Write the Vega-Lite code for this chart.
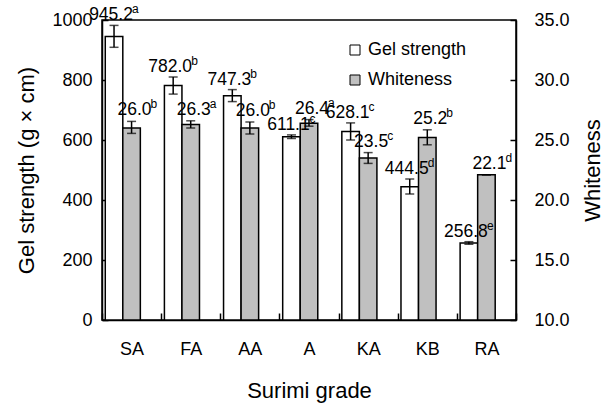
{
  "$schema": "https://vega.github.io/schema/vega-lite/v6.json",
  "autosize": "none",
  "width": 414,
  "height": 300,
  "padding": {"left": 102, "top": 20, "right": 91, "bottom": 83},
  "background": "white",
  "config": {
    "font": "Liberation Sans",
    "view": {"stroke": "black", "strokeWidth": 1.5},
    "axis": {
      "domainColor": "black", "domainWidth": 1.5,
      "tickColor": "black", "tickWidth": 1.5,
      "labelColor": "black", "titleColor": "black",
      "labelFontSize": 18, "titleFontSize": 22, "titleFontWeight": "normal",
      "grid": false
    },
    "legend": {"labelFontSize": 18, "labelColor": "black"}
  },
  "data": {
    "values": [
      {"grade": "SA", "measure": "Gel strength", "value": 945.2, "lo": 909, "hi": 982, "sig": "a"},
      {"grade": "SA", "measure": "Whiteness", "value": 26.0, "lo": 25.55, "hi": 26.55, "sig": "b"},
      {"grade": "FA", "measure": "Gel strength", "value": 782.0, "lo": 753, "hi": 810, "sig": "b"},
      {"grade": "FA", "measure": "Whiteness", "value": 26.3, "lo": 26.0, "hi": 26.6, "sig": "a"},
      {"grade": "AA", "measure": "Gel strength", "value": 747.3, "lo": 728, "hi": 768, "sig": "b"},
      {"grade": "AA", "measure": "Whiteness", "value": 26.0, "lo": 25.5, "hi": 26.5, "sig": "b"},
      {"grade": "A", "measure": "Gel strength", "value": 611.1, "lo": 605, "hi": 617, "sig": "c"},
      {"grade": "A", "measure": "Whiteness", "value": 26.4, "lo": 26.15, "hi": 26.7, "sig": "a"},
      {"grade": "KA", "measure": "Gel strength", "value": 628.1, "lo": 600, "hi": 657, "sig": "c"},
      {"grade": "KA", "measure": "Whiteness", "value": 23.5, "lo": 23.05, "hi": 23.95, "sig": "c"},
      {"grade": "KB", "measure": "Gel strength", "value": 444.5, "lo": 420, "hi": 470, "sig": "d"},
      {"grade": "KB", "measure": "Whiteness", "value": 25.2, "lo": 24.6, "hi": 25.85, "sig": "b"},
      {"grade": "RA", "measure": "Gel strength", "value": 256.8, "lo": 252.5, "hi": 261, "sig": "e"},
      {"grade": "RA", "measure": "Whiteness", "value": 22.1, "lo": 22.1, "hi": 22.1, "sig": "d"}
    ]
  },
  "encoding": {
    "x": {
      "field": "grade", "type": "nominal", "sort": null,
      "scale": {"domain": ["SA", "FA", "AA", "A", "KA", "KB", "RA"], "paddingInner": 0, "paddingOuter": 0},
      "axis": {"title": "Surimi grade", "labelAngle": 0, "tickBand": "extent", "tickSize": -7, "labelPadding": 27, "titlePadding": 22}
    },
    "xOffset": {
      "field": "measure", "type": "nominal",
      "scale": {"domain": ["Gel strength", "Whiteness", "_"], "paddingInner": 0, "paddingOuter": 0.186}
    }
  },
  "layer": [
    {
      "transform": [{"filter": "datum.measure === 'Gel strength'"}],
      "layer": [
        {
          "mark": {"type": "bar", "stroke": "black", "strokeWidth": 1.5},
          "encoding": {
            "y": {"field": "value", "type": "quantitative",
              "scale": {"domain": [0, 1000], "nice": false},
              "axis": {"title": "Gel strength (g × cm)", "values": [0, 200, 400, 600, 800, 1000], "format": "d", "tickSize": -6, "labelPadding": 16, "titlePadding": 13}},
            "color": {"field": "measure", "type": "nominal",
              "scale": {"domain": ["Gel strength", "Whiteness"], "range": ["white", "#c0c0c0"]},
              "legend": {"title": null, "orient": "none", "legendX": 244, "legendY": 21, "symbolType": "square", "symbolSize": 100, "symbolStrokeColor": "black", "symbolStrokeWidth": 1, "labelOffset": 4, "rowPadding": 12}}
          }
        },
        {
          "mark": {"type": "rule", "stroke": "black", "strokeWidth": 1.5},
          "encoding": {"y": {"field": "lo", "type": "quantitative"}, "y2": {"field": "hi"}}
        },
        {
          "mark": {"type": "tick", "color": "black", "size": 9, "thickness": 1.5},
          "encoding": {"y": {"field": "lo", "type": "quantitative"}}
        },
        {
          "mark": {"type": "tick", "color": "black", "size": 9, "thickness": 1.5},
          "encoding": {"y": {"field": "hi", "type": "quantitative"}}
        }
      ]
    },
    {
      "transform": [{"filter": "datum.measure === 'Whiteness'"}],
      "layer": [
        {
          "mark": {"type": "bar", "stroke": "black", "strokeWidth": 1.5},
          "encoding": {
            "y": {"field": "value", "type": "quantitative",
              "scale": {"domain": [10, 35], "nice": false, "zero": false},
              "axis": {"title": "Whiteness", "orient": "right", "values": [10, 15, 20, 25, 30, 35], "format": ".1f", "tickSize": -6, "labelPadding": 24, "titlePadding": 35, "titleAngle": 270}},
            "y2": {"datum": 10},
            "color": {"field": "measure", "type": "nominal"}
          }
        },
        {
          "mark": {"type": "rule", "stroke": "black", "strokeWidth": 1.5},
          "encoding": {"y": {"field": "lo", "type": "quantitative"}, "y2": {"field": "hi"}}
        },
        {
          "mark": {"type": "tick", "color": "black", "size": 9, "thickness": 1.5},
          "encoding": {"y": {"field": "lo", "type": "quantitative"}}
        },
        {
          "mark": {"type": "tick", "color": "black", "size": 9, "thickness": 1.5},
          "encoding": {"y": {"field": "hi", "type": "quantitative"}}
        }
      ]
    },
    {
      "transform": [{"filter": "datum.measure === 'Gel strength'"}],
      "encoding": {"y": {"field": "hi", "type": "quantitative", "scale": {"domain": [0, 1000], "nice": false}, "axis": null}},
      "layer": [
        {
          "mark": {"type": "text", "fontSize": 17.5, "align": "center", "baseline": "alphabetic", "dx": -3, "dy": -5, "color": "black"},
          "encoding": {"text": {"field": "value", "type": "quantitative", "format": ".1f"}}
        },
        {
          "mark": {"type": "text", "fontSize": 12, "align": "left", "baseline": "alphabetic", "dx": 18, "dy": -12, "color": "black"},
          "encoding": {"text": {"field": "sig"}}
        }
      ]
    },
    {
      "transform": [{"filter": "datum.measure === 'Whiteness'"}],
      "encoding": {"y": {"field": "hi", "type": "quantitative", "scale": {"domain": [10, 35], "nice": false, "zero": false}, "axis": null}},
      "layer": [
        {
          "mark": {"type": "text", "fontSize": 17.5, "align": "center", "baseline": "alphabetic", "dx": 3, "dy": -6, "color": "black"},
          "encoding": {"text": {"field": "value", "type": "quantitative", "format": ".1f"}}
        },
        {
          "mark": {"type": "text", "fontSize": 12, "align": "left", "baseline": "alphabetic", "dx": 19, "dy": -13, "color": "black"},
          "encoding": {"text": {"field": "sig"}}
        }
      ]
    }
  ],
  "resolve": {"scale": {"y": "independent"}}
}
